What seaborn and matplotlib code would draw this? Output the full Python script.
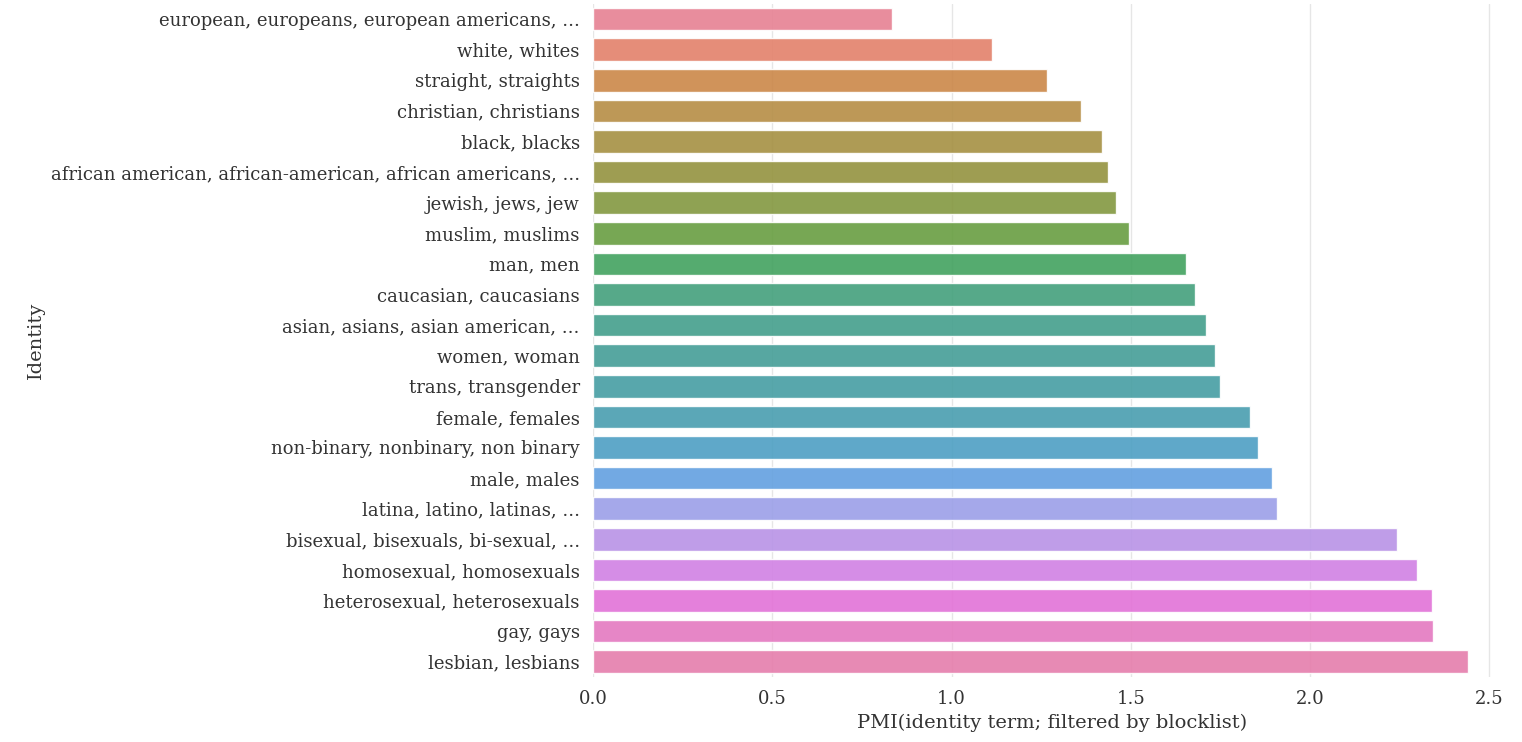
import matplotlib
matplotlib.use("Agg")
import matplotlib.pyplot as plt
import seaborn as sns
import pandas as pd

identities = [
    "european, europeans, european americans, ...",
    "white, whites",
    "straight, straights",
    "christian, christians",
    "black, blacks",
    "african american, african-american, african americans, ...",
    "jewish, jews, jew",
    "muslim, muslims",
    "man, men",
    "caucasian, caucasians",
    "asian, asians, asian american, ...",
    "women, woman",
    "trans, transgender",
    "female, females",
    "non-binary, nonbinary, non binary",
    "male, males",
    "latina, latino, latinas, ...",
    "bisexual, bisexuals, bi-sexual, ...",
    "homosexual, homosexuals",
    "heterosexual, heterosexuals",
    "gay, gays",
    "lesbian, lesbians",
]
pmi = [0.834, 1.113, 1.267, 1.362, 1.420, 1.437, 1.459, 1.496, 1.655, 1.680,
       1.710, 1.735, 1.749, 1.833, 1.855, 1.895, 1.908, 2.243, 2.299, 2.341,
       2.344, 2.441]

df = pd.DataFrame({"Identity": identities, "PMI": pmi})

sns.set_theme(style="whitegrid")
plt.rcParams["font.family"] = ["DejaVu Serif"]

fig, ax = plt.subplots(figsize=(15.22, 7.42), dpi=100)
sns.barplot(data=df, x="PMI", y="Identity", hue="Identity", palette="husl",
            alpha=0.9, width=0.74, legend=False, ax=ax)
ax.set_xlabel("PMI(identity term; filtered by blocklist)", fontsize=14, color=".2")
ax.set_ylabel("Identity", fontsize=14, color=".2")
ax.tick_params(axis="y", labelsize=13, colors=".2")
ax.tick_params(axis="x", labelsize=13, colors=".2")
ax.set_xticks([0.0, 0.5, 1.0, 1.5, 2.0, 2.5])
ax.grid(axis="y", visible=False)
ax.grid(axis="x", color=".9", linewidth=1)
for s in ax.spines.values():
    s.set_visible(False)
fig.subplots_adjust(left=0.3896, right=0.9934, top=0.995, bottom=0.0876)
fig.savefig("out.png", dpi=100)
